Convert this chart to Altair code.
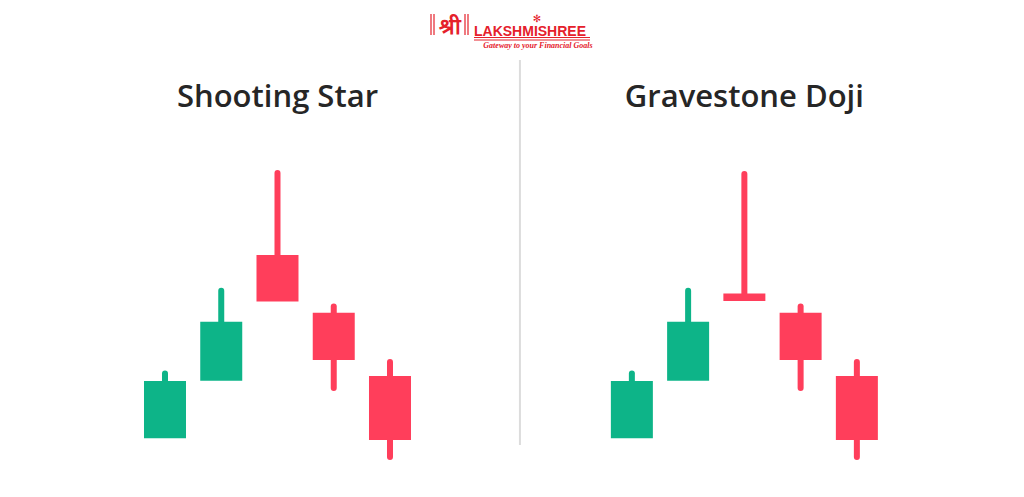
import altair as alt
import pandas as pd

# ---------------- data ----------------
PANELS = ["Shooting Star", "Gravestone Doji"]
PANEL_SHIFT = [0.0, 8.3]          # horizontal offset (in candle slots) of each panel
CANDLE = [1, 2, 3, 4, 5]

OPEN_SS = [24.9, 53.6, 116.5, 87.6, 56.0]
CLOSE_SS = [53.5, 83.1, 93.2, 64.0, 24.0]
HIGH_SS = [57.3, 98.6, 157.5, 90.8, 63.0]
LOW_SS = [24.9, 53.6, 93.2, 50.0, 15.5]

OPEN_GD = [24.9, 53.6, 97.3, 87.6, 56.0]
CLOSE_GD = [53.5, 83.1, 93.5, 64.0, 24.0]
HIGH_GD = [57.3, 98.6, 157.0, 90.8, 63.0]
LOW_GD = [24.9, 53.6, 93.5, 50.0, 15.5]

TITLE_LEVEL = 190.5
DIVIDER_X = 7.31
DIVIDER_TOP = 214.0
DIVIDER_BOTTOM = 21.5

LOGO_MARK = "श्री"
LOGO_NAME = "LAKSHMISHREE"
LOGO_TAG = "Gateway to your Financial Goals"

GREEN = "#0DB488"
RED = "#FF3E5B"
LOGO_RED = "#E5202B"

rows = []
for p, shift, o, c, h, l in [
    (PANELS[0], PANEL_SHIFT[0], OPEN_SS, CLOSE_SS, HIGH_SS, LOW_SS),
    (PANELS[1], PANEL_SHIFT[1], OPEN_GD, CLOSE_GD, HIGH_GD, LOW_GD),
]:
    for i, oo, cc, hh, ll in zip(CANDLE, o, c, h, l):
        rows.append({
            "panel": p, "x": i + shift, "open": oo, "close": cc, "high": hh, "low": ll,
            "top": max(oo, cc), "bottom": min(oo, cc),
            "dir": "up" if cc >= oo else "down",
        })
df = pd.DataFrame(rows)

titles = pd.DataFrame({"panel": PANELS, "x": [3 + s for s in PANEL_SHIFT], "y": [TITLE_LEVEL] * 2})
divider = pd.DataFrame({"x": [DIVIDER_X], "y": [DIVIDER_TOP], "y2": [DIVIDER_BOTTOM]})

xs = alt.Scale(domain=[-1.791, 16.129], nice=False, zero=False)
ys = alt.Scale(domain=[0, 240], nice=False, zero=False)
col = alt.Color("dir:N", scale=alt.Scale(domain=["up", "down"], range=[GREEN, RED]), legend=None)

base = alt.Chart(df)
upper = base.mark_rule(strokeWidth=6, strokeCap="round").encode(
    x=alt.X("x:Q", scale=xs, axis=None),
    y=alt.Y("high:Q", scale=ys, axis=None),
    y2="top:Q",
    color=col,
)
lower = base.transform_filter("datum.low < datum.bottom").mark_rule(strokeWidth=6, strokeCap="round").encode(
    x=alt.X("x:Q", scale=xs, axis=None),
    y=alt.Y("low:Q", scale=ys, axis=None),
    y2="bottom:Q",
    color=col,
)
body = base.mark_rule(strokeWidth=42, strokeCap="butt").encode(
    x=alt.X("x:Q", scale=xs, axis=None),
    y=alt.Y("open:Q", scale=ys, axis=None),
    y2="close:Q",
    color=col,
)

title_text = alt.Chart(titles).mark_text(
    font="Open Sans", fontSize=31, fontWeight=600, color="#262626", align="center", baseline="alphabetic"
).encode(
    x=alt.X("x:Q", scale=xs, axis=None),
    y=alt.Y("y:Q", scale=ys, axis=None),
    text="panel:N",
)

div_rule = alt.Chart(divider).mark_rule(strokeWidth=2, color="#DCDCDC").encode(
    x=alt.X("x:Q", scale=xs, axis=None),
    y=alt.Y("y:Q", scale=ys, axis=None),
    y2="y2:Q",
)

# ---------- logo (decoration, pixel positions inside plot area) ----------
logo_lines = pd.DataFrame({
    "x1": [423, 426, 457, 460, 466, 466],
    "x2": [423, 426, 457, 460, 582, 582],
    "y1": [6, 6, 6, 6, 29.5, 32],
    "y2": [27, 27, 27, 27, 29.5, 32],
})
logo_rules = alt.Chart(logo_lines).mark_rule(strokeWidth=1.2, color=LOGO_RED).encode(
    x=alt.X("x1:Q", scale=None), x2="x2:Q",
    y=alt.Y("y1:Q", scale=None), y2="y2:Q",
)
logo_txt = pd.DataFrame({
    "t": [LOGO_MARK, LOGO_NAME, LOGO_TAG, "✻"],
    "px": [441.5, 466, 530, 529],
    "py": [26, 27.5, 39.5, 11],
})
logo_mark = alt.Chart(logo_txt).transform_filter(alt.datum.t == LOGO_MARK).mark_text(
    fontSize=22, fontWeight="bold", color=LOGO_RED, align="center", baseline="alphabetic"
).encode(x=alt.X("px:Q", scale=None), y=alt.Y("py:Q", scale=None), text="t:N")
logo_name = alt.Chart(logo_txt).transform_filter(alt.datum.t == LOGO_NAME).mark_text(
    font="Liberation Sans", fontSize=14, fontWeight="bold", color=LOGO_RED, align="left", baseline="alphabetic"
).encode(x=alt.X("px:Q", scale=None), y=alt.Y("py:Q", scale=None), text="t:N")
logo_tag = alt.Chart(logo_txt).transform_filter(alt.datum.t == LOGO_TAG).mark_text(
    font="Liberation Serif", fontSize=8, fontStyle="italic", fontWeight="bold", color=LOGO_RED,
    align="center", baseline="alphabetic"
).encode(x=alt.X("px:Q", scale=None), y=alt.Y("py:Q", scale=None), text="t:N")
logo_star = alt.Chart(logo_txt).transform_filter(alt.datum.t == "✻").mark_text(
    font="DejaVu Sans", fontSize=10, color=LOGO_RED, align="center", baseline="middle"
).encode(x=alt.X("px:Q", scale=None), y=alt.Y("py:Q", scale=None), text="t:N")

chart = alt.layer(
    div_rule, upper, lower, body, title_text,
    logo_rules, logo_mark, logo_name, logo_tag, logo_star,
).properties(
    width=1008, height=480, padding=0,
    autosize=alt.AutoSizeParams(type="fit", contains="padding"),
    background="white",
).configure_view(stroke=None)

chart.save("out.html", embed_options={"renderer": "svg", "actions": False})
